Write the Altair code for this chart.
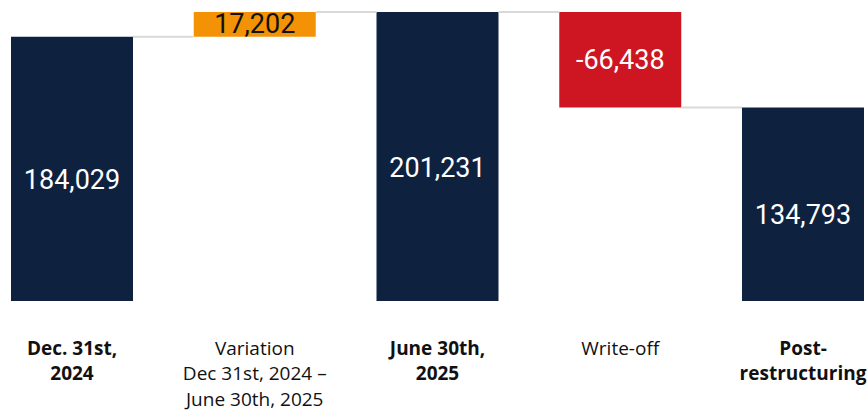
import altair as alt
import pandas as pd

categories = ["Dec. 31st,|2024", "Variation|Dec 31st, 2024 –|June 30th, 2025",
              "June 30th,|2025", "Write-off", "Post-|restructuring"]
values = [184029, 17202, 201231, -66438, 134793]
kinds = ["total", "up", "total", "down", "total"]

rows = []
running = 0
for c, v, k in zip(categories, values, kinds):
    if k == "total":
        start, end = 0, v
        running = v
    else:
        start, end = running, running + v
        running = end
    rows.append({"cat": c, "value": v, "kind": k, "start": start, "end": end,
                 "mid": (start + end) / 2, "label": f"{v:,}"})
df = pd.DataFrame(rows)

conn = pd.DataFrame([
    {"cat": categories[i], "next": categories[i + 1], "level": rows[i]["end"]}
    for i in range(len(categories) - 1)
])

xscale = alt.Scale(domain=categories, paddingInner=0.3324, paddingOuter=0)
yscale = alt.Scale(domain=[0, 201231], nice=False, zero=True)

xaxis = alt.Axis(
    title=None, domain=False, ticks=False, grid=False, labelAngle=0,
    labelExpr="split(datum.label, '|')",
    labelFont="Open Sans", labelFontSize=19, labelColor="#111111",
    labelFontWeight=alt.expr("indexof(datum.label, 'Variation') >= 0 || indexof(datum.label, 'Write') >= 0 ? 'normal' : 'bold'"),
    labelLineHeight=25.5, labelPadding=38, labelBaseline="top", labelLimit=300,
)

base = alt.Chart(df)

bars = base.mark_bar().encode(
    x=alt.X("cat:N", scale=xscale, axis=xaxis, sort=None),
    y=alt.Y("start:Q", scale=yscale, axis=None),
    y2="end:Q",
    color=alt.Color("kind:N", scale=alt.Scale(domain=["total", "up", "down"],
                                              range=["#0E2240", "#F39204", "#CE1623"]),
                    legend=None),
)

rules = alt.Chart(conn).mark_rule(color="#D9D9D9", strokeWidth=2).encode(
    x=alt.X("cat:N", scale=xscale, bandPosition=1, axis=xaxis),
    x2=alt.X2("next:N", bandPosition=0),
    y=alt.Y("level:Q", scale=yscale, axis=None),
)

text_total = base.transform_filter("datum.kind == 'total'").mark_text(
    font="Roboto", fontSize=27, color="white", baseline="middle", dy=12
).encode(
    x=alt.X("cat:N", scale=xscale, axis=xaxis),
    y=alt.Y("mid:Q", scale=yscale, axis=None),
    text="label:N",
)

text_delta = base.transform_filter("datum.kind != 'total'").mark_text(
    font="Roboto", fontSize=27, baseline="middle", dy=1
).encode(
    x=alt.X("cat:N", scale=xscale, axis=xaxis),
    y=alt.Y("mid:Q", scale=yscale, axis=None),
    text="label:N",
    color=alt.condition("datum.kind == 'up'", alt.value("#111111"), alt.value("white")),
)

chart = alt.layer(bars, rules, text_total, text_delta).properties(
    width=853, height=289,
    autosize=alt.AutoSizeParams(type="none"),
    padding={"left": 11, "top": 12, "right": 3, "bottom": 109},
    background="white",
).configure_view(stroke=None)

chart.save("out.html", embed_options={"renderer": "svg", "actions": False})
